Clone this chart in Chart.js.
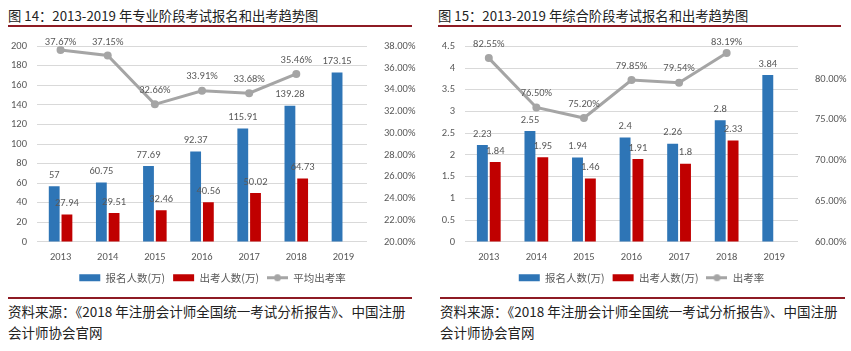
<!DOCTYPE html>
<html>
<head>
<meta charset="utf-8">
<script src="https://cdn.jsdelivr.net/npm/chart.js@4.4.0/dist/chart.umd.min.js"></script>
<style>
  body { margin: 0; background: #fff; width: 851px; height: 351px; overflow: hidden; position: relative;
         font-family: "Noto Sans CJK SC", sans-serif; }
  .title { position: absolute; top: 6px; font-size: 13.3px; color: #222; white-space: nowrap; }
  .rule { position: absolute; height: 2px; background: #8e1b24; }
  .src { position: absolute; top: 301px; font-size: 13.5px; line-height: 21px; color: #222; white-space: nowrap; }
  canvas { position: absolute; }
</style>
</head>
<body>
<canvas id="proChart" width="425" height="265" style="left:0;top:30px"></canvas>
<canvas id="compChart" width="419" height="265" style="left:432px;top:30px"></canvas>

<div class="title" style="left:8px">图 14：2013-2019 年专业阶段考试报名和出考趋势图</div>
<div class="rule" style="left:8px;width:404px;top:25px"></div>
<div class="title" style="left:438px">图 15：2013-2019 年综合阶段考试报名和出考趋势图</div>
<div class="rule" style="left:438px;width:403px;top:25px"></div>

<div class="rule" style="left:8px;width:404px;top:297px"></div>
<div class="rule" style="left:440px;width:405px;top:297px"></div>
<div class="src" style="left:8px">资料来源：《2018 年注册会计师全国统一考试分析报告》、中国注册<br>会计师协会官网</div>
<div class="src" style="left:440px">资料来源：《2018 年注册会计师全国统一考试分析报告》、中国注册<br>会计师协会官网</div>

<script>
const years = ["2013", "2014", "2015", "2016", "2017", "2018", "2019"];

// 专业阶段
const proApplicants = [57, 60.75, 77.69, 92.37, 115.91, 139.28, 173.15];
const proAttendees = [27.94, 29.51, 32.46, 40.56, 50.02, 64.73, null];
const proRate = [37.67, 37.15, 32.66, 33.91, 33.68, 35.46, null];

// 综合阶段
const compApplicants = [2.23, 2.55, 1.94, 2.4, 2.26, 2.8, 3.84];
const compAttendees = [1.84, 1.95, 1.46, 1.91, 1.8, 2.33, null];
const compRate = [82.55, 76.50, 75.20, 79.85, 79.54, 83.19, null];

const BLUE = "#2e75b6";
const RED = "#c00000";
const GREY = "#a5a5a5";
const TEXT = "#595959";
const NUM_FONT = "Carlito, Lato, sans-serif";

// little canvas used as the legend marker of the line series
function lineMarker() {
  const c = document.createElement("canvas");
  c.width = 21;
  c.height = 9;
  const g = c.getContext("2d");
  g.strokeStyle = GREY;
  g.lineWidth = 3;
  g.beginPath();
  g.moveTo(0, 4.5);
  g.lineTo(21, 4.5);
  g.stroke();
  g.fillStyle = GREY;
  g.beginPath();
  g.arc(10.5, 4.5, 3.5, 0, Math.PI * 2);
  g.fill();
  return c;
}
const marker = lineMarker();

// value labels over bars and points
const valueLabels = {
  id: "valueLabels",
  afterDatasetsDraw(chart) {
    const ctx = chart.ctx;
    const top = chart.chartArea.top;
    ctx.save();
    ctx.font = "10.5px " + NUM_FONT;
    ctx.fillStyle = TEXT;
    ctx.textAlign = "center";
    ctx.textBaseline = "middle";
    chart.data.datasets.forEach((ds, i) => {
      const meta = chart.getDatasetMeta(i);
      meta.data.forEach((el, j) => {
        const v = ds.data[j];
        if (v == null) return;
        if (ds.type === "line") {
          ctx.fillText(v.toFixed(2) + "%", el.x, Math.max(el.y - 14, top - 4));
        } else {
          ctx.fillText(String(v), el.x, el.y - 11);
        }
      });
    });
    ctx.restore();
  }
};

function makeChart(id, applicants, attendees, rate, rateLabel, left, right, pad) {
  return new Chart(document.getElementById(id), {
    type: "bar",
    data: {
      labels: years,
      datasets: [
        { label: "报名人数(万)", data: applicants, backgroundColor: BLUE, yAxisID: "y" },
        { label: "出考人数(万)", data: attendees, backgroundColor: RED, yAxisID: "y" },
        {
          type: "line", label: rateLabel, data: rate, yAxisID: "y1", order: -1,
          borderColor: GREY, backgroundColor: GREY, borderWidth: 3,
          pointRadius: 4, pointBackgroundColor: GREY, pointBorderWidth: 0, spanGaps: false
        }
      ]
    },
    options: {
      responsive: false,
      animation: false,
      categoryPercentage: 0.54,
      barPercentage: 0.85,
      layout: { padding: { top: pad.top, left: 0, right: 0, bottom: 2 } },
      scales: {
        x: {
          grid: { display: false },
          border: { display: false },
          ticks: { color: TEXT, font: { family: NUM_FONT, size: 10.5 }, padding: 1 }
        },
        y: {
          min: left.min, max: left.max,
          ticks: {
            stepSize: left.step, color: TEXT, font: { family: NUM_FONT, size: 10.5 }, padding: 10,
            callback: v => String(v)
          },
          grid: { color: "#d9d9d9", drawTicks: false },
          border: { display: false },
          afterFit(scale) { scale.width = pad.left; }
        },
        y1: {
          position: "right",
          min: right.min, max: right.max,
          ticks: {
            stepSize: right.step, color: TEXT, font: { family: NUM_FONT, size: 10.5 }, padding: 9,
            callback: v => (v - right.min) % right.step === 0 ? v.toFixed(2) + "%" : ""
          },
          grid: { display: false },
          border: { display: false },
          afterFit(scale) { scale.width = pad.right; }
        }
      },
      plugins: {
        tooltip: { enabled: false },
        legend: {
          position: "bottom",
          labels: {
            usePointStyle: true,
            pointStyleWidth: 21,
            boxHeight: 7,
            padding: 8,
            color: TEXT,
            font: { family: "'Noto Sans CJK SC', sans-serif", size: 10.5 },
            generateLabels: chart => chart.data.datasets.map((ds, i) => ({
              text: ds.label,
              fillStyle: ds.backgroundColor,
              strokeStyle: ds.backgroundColor,
              lineWidth: 0,
              pointStyle: ds.type === "line" ? marker : "rect",
              datasetIndex: i,
              hidden: false,
              fontColor: TEXT
            }))
          }
        }
      }
    },
    plugins: [valueLabels]
  });
}

makeChart("proChart", proApplicants, proAttendees, proRate, "平均出考率",
  { min: 0, max: 200, step: 20 }, { min: 20, max: 38, step: 2 },
  { top: 13, left: 37, right: 58 });

makeChart("compChart", compApplicants, compAttendees, compRate, "出考率",
  { min: 0, max: 4.5, step: 0.5 }, { min: 60, max: 84, step: 5 },
  { top: 14, left: 33, right: 53 });
</script>
</body>
</html>
